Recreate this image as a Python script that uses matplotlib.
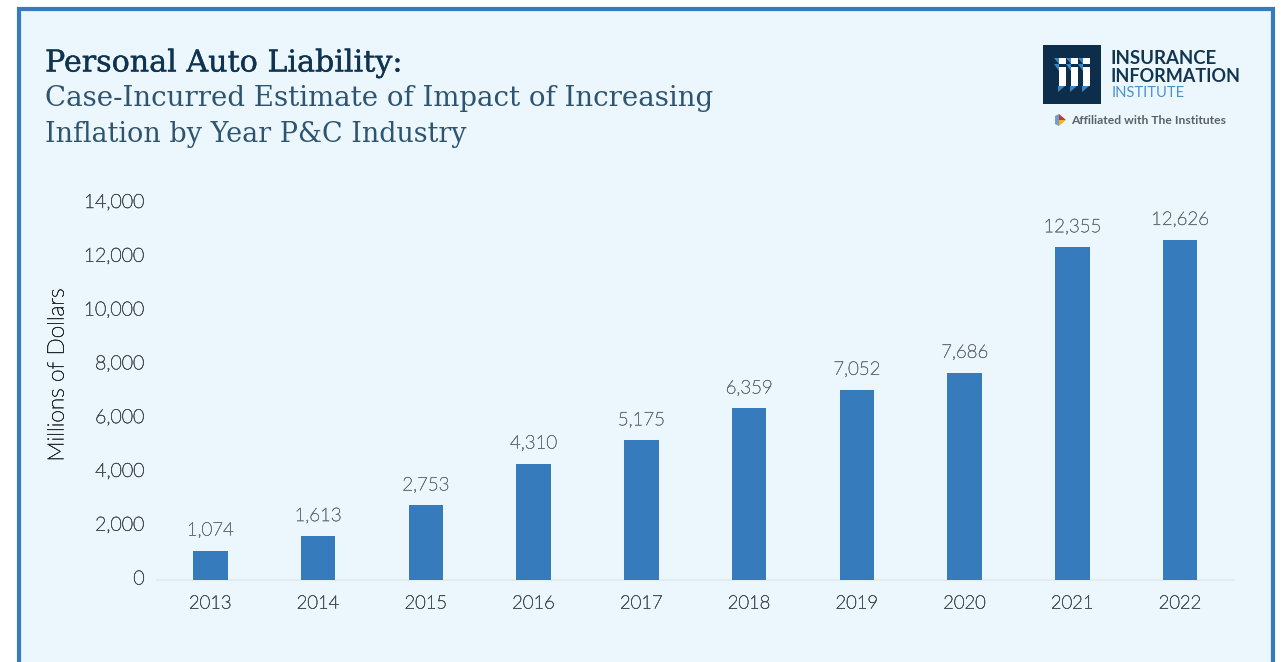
import matplotlib
matplotlib.use("Agg")
import matplotlib.pyplot as plt
import matplotlib.patheffects as pe
from matplotlib.patches import Rectangle, Polygon
from matplotlib.ticker import FuncFormatter
from matplotlib.transforms import ScaledTranslation

years = ["2013", "2014", "2015", "2016", "2017", "2018", "2019", "2020", "2021", "2022"]
impact = [1074, 1613, 2753, 4310, 5175, 6359, 7052, 7686, 12355, 12626]
y_ticks = [0, 2000, 4000, 6000, 8000, 10000, 12000, 14000]

W, H = 1281, 662
NAVY = "#0f3350"
BLUE = "#367cbd"
PANEL = "#ebf7fd"
GREY = "#4a5056"
SANS = "Lato"
SLAB = "DejaVu Serif"
LIGHT = 200


def thicken(color, width=0.45):
    """Give the thin sans face a little more body."""
    return [pe.withStroke(linewidth=width, foreground=color)]


fig = plt.figure(figsize=(W / 100, H / 100), dpi=100, facecolor="white")

# Page layer in pixel coordinates: panel, headings and logo
page = fig.add_axes([0, 0, 1, 1], zorder=0)
page.set_xlim(0, W)
page.set_ylim(H, 0)
page.axis("off")
page.add_patch(Rectangle((19, 9), 1254, 670, facecolor=PANEL, edgecolor=BLUE, linewidth=3))

page.text(45, 63.5, "Personal Auto Liability:", fontsize=21.7, family=SLAB, color=NAVY,
          va="center", ha="left", path_effects=thicken(NAVY, 0.25))
page.text(45, 99, "Case-Incurred Estimate of Impact of Increasing", fontsize=19.9,
          family=SLAB, color="#2e5470", va="center", ha="left")
page.text(45, 134, "Inflation by Year P&C Industry", fontsize=19.45, family=SLAB,
          color="#2e5470", va="center", ha="left")

# Logo block with the three striped "i" letters
page.add_patch(Rectangle((1043, 45), 58, 59, facecolor="#0d2e4a", edgecolor="none"))
for left in (1059, 1071, 1083):
    page.add_patch(Rectangle((left, 58), 6.5, 6, facecolor="white", edgecolor="none"))
    page.add_patch(Rectangle((left, 67), 6.5, 19, facecolor="white", edgecolor="none"))
    page.add_patch(Polygon([(left - 5, 58), (left, 58), (left, 64)],
                           facecolor="#3b86c6", edgecolor="none"))
    page.add_patch(Polygon([(left - 5, 64), (left, 64), (left, 71)],
                           facecolor="#3b86c6", edgecolor="none"))
    page.add_patch(Polygon([(left - 1, 86), (left + 6, 86), (left - 1, 92)],
                           facecolor="#3b86c6", edgecolor="none"))
page.text(1111, 59, "INSURANCE", fontsize=13.4, family=SANS, fontweight="bold",
          color="#123550", va="center", ha="left")
page.text(1111, 76, "INFORMATION", fontsize=13, family=SANS, fontweight="bold",
          color="#123550", va="center", ha="left")
page.text(1112, 93, "INSTITUTE", fontsize=10.6, family=SANS, color="#4a90cc",
          va="center", ha="left")
page.add_patch(Polygon([(1055, 116), (1059, 114), (1059, 126), (1055, 124)], facecolor="#6f9fd0", edgecolor="none"))
page.add_patch(Polygon([(1059, 114), (1066, 120), (1059, 120)], facecolor="#c8382e", edgecolor="none"))
page.add_patch(Polygon([(1059, 120), (1066, 120), (1059, 126)], facecolor="#f0b429", edgecolor="none"))
page.text(1071, 121, "Affiliated with The Institutes", fontsize=8.75, family=SANS,
          fontweight="bold", color="#5a6168", va="center", ha="left")

# Bar chart; the axes box spans the baseline and the top tick
left_px, right_px, top_px, base_px = 156.5, 1234, 203, 579.5
ax = fig.add_axes([left_px / W, 1 - base_px / H, (right_px - left_px) / W, (base_px - top_px) / H],
                  zorder=1)
ax.patch.set_alpha(0)
positions = list(range(len(years)))
ax.bar(positions, impact, width=0.32, color=BLUE, zorder=3)
ax.set_xlim(-0.5, len(years) - 0.5)
ax.set_ylim(0, 14000)
ax.set_yticks(y_ticks)
ax.yaxis.set_major_formatter(FuncFormatter(lambda v, _: f"{int(v):,}"))
ax.set_xticks(positions, years)
for side in ("top", "right", "left"):
    ax.spines[side].set_visible(False)
ax.spines["bottom"].set_color("#e3edf1")
ax.spines["bottom"].set_linewidth(1.5)
ax.tick_params(axis="x", length=0, labelsize=13.2, labelcolor=GREY, pad=11.5)
ax.tick_params(axis="y", length=0, labelsize=14, labelcolor=GREY, pad=8.5)
for label in ax.get_xticklabels() + ax.get_yticklabels():
    label.set_family(SANS)
    label.set_fontweight(LIGHT)
    label.set_path_effects(thicken(GREY))

# Nudge the value-axis numbers up a little relative to their ticks
lift = ScaledTranslation(0, 1.5 / 72, fig.dpi_scale_trans)
for label in ax.get_yticklabels():
    label.set_transform(label.get_transform() + lift)

ax.set_ylabel("Millions of Dollars", fontsize=16.3, family=SANS, fontweight=LIGHT, color="#262b30",
              path_effects=thicken("#262b30"))
ax.yaxis.set_label_coords((67.5 - left_px) / (right_px - left_px),
                          (base_px - 375) / (base_px - top_px))

for x, value in zip(positions, impact):
    ax.annotate(f"{value:,}", (x, value), xytext=(0, 8), textcoords="offset points",
                ha="center", va="bottom", fontsize=13.4, family=SANS, fontweight=LIGHT,
                color="#6a7076", path_effects=thicken("#6a7076", 0.4))

fig.savefig("out.png", dpi=100, facecolor="white")
